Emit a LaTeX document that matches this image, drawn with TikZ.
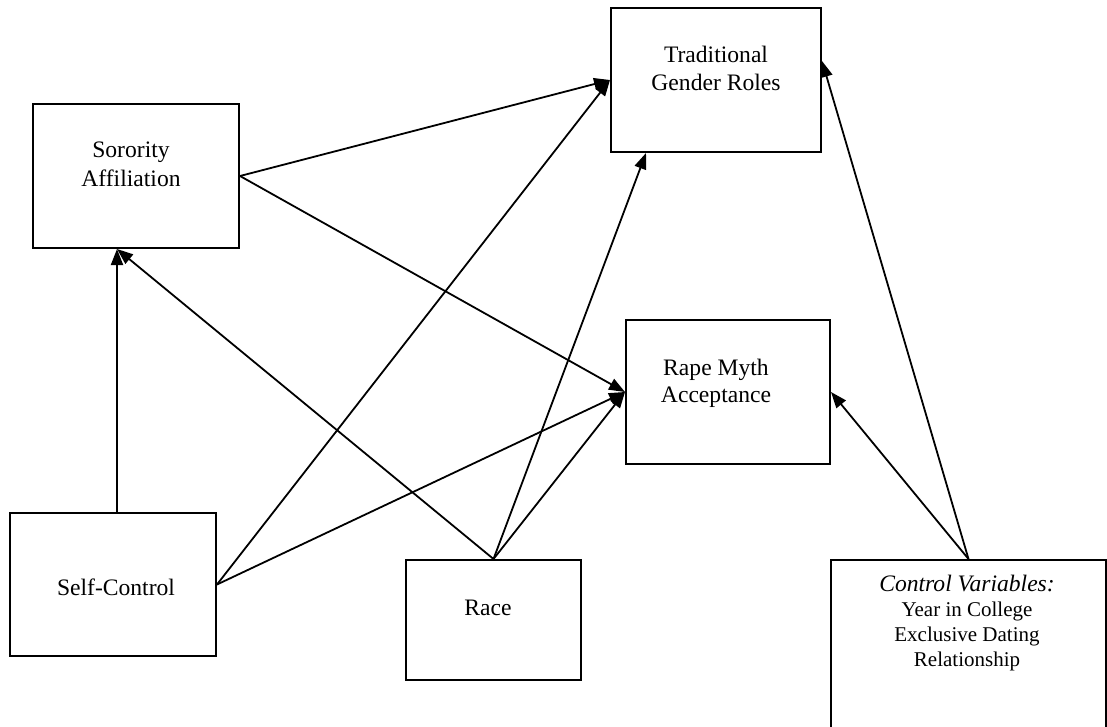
\documentclass[tikz,border=0pt]{standalone}
\usepackage{fontspec}
\setmainfont{Liberation Serif}
\usetikzlibrary{arrows.meta,calc}
\begin{document}
\begin{tikzpicture}[x=1pt,y=-1pt,
  box/.style={draw, line width=2pt, rectangle, inner sep=0pt, anchor=north west},
  lbl/.style={anchor=base, inner sep=0pt, font=\fontsize{23.6}{28}\selectfont},
  lblsmall/.style={anchor=base, inner sep=0pt, font=\fontsize{21}{25}\selectfont},
  link/.style={line width=1.8pt, -{Triangle[length=16pt,width=12pt]}}]
\clip (0,0) rectangle (1107,727);

% boxes
\node[box, minimum width=210pt, minimum height=144pt] (tgr)  at (610,7)   {};
\node[box, minimum width=206pt, minimum height=144pt] (sor)  at (32,103)  {};
\node[box, minimum width=204pt, minimum height=144pt] (rma)  at (625,319) {};
\node[box, minimum width=206pt, minimum height=143pt] (sc)   at (9,512)   {};
\node[box, minimum width=175pt, minimum height=120pt] (race) at (405,559) {};
\node[box, minimum width=275pt, minimum height=200pt] (ctrl) at (830,559) {};

% labels
\node[lbl] (tgrA) at (716,63)  {Traditional};
\node[lbl] (tgrB) at (716,91)  {Gender Roles};
\node[lbl] (sorA) at (131,158) {Sorority};
\node[lbl] (sorB) at (131,187) {Affiliation};
\node[lbl] (rmaA) at (716,375) {Rape Myth};
\node[lbl] (rmaB) at (716,402) {Acceptance};
\node[lbl] (scA)  at (116,595) {Self-Control};
\node[lbl] (raceA) at (488,615) {Race};
\node[lbl, font=\fontsize{23.6}{28}\selectfont\itshape] (ctrlA) at (967,591) {Control Variables:};
\node[lblsmall] (ctrlB) at (967,616) {Year in College};
\node[lblsmall] (ctrlC) at (967,641) {Exclusive Dating};
\node[lblsmall] (ctrlD) at (967,666) {Relationship};

% ports on the borders
\coordinate (scTop) at ($(sc.north)+(4,0)$);
\coordinate (sorIn) at (scTop |- sor.south);
\coordinate (tgrIn) at ($(tgr.south west)+(36,0)$);
\coordinate (tgrR)  at ($(tgr.north east)!0.37!(tgr.south east)$);

% paths
\draw[link] (sor.east) -- (tgr.west);
\draw[link] (sor.east) -- (rma.west);
\draw[link] (scTop) -- (sorIn);
\draw[link] (sc.east) -- (tgr.west);
\draw[link] (sc.east) -- (rma.west);
\draw[link] (race.north) -- (sorIn);
\draw[link] (race.north) -- (tgrIn);
\draw[link] (race.north) -- (rma.west);
\draw[link] (ctrl.north) -- (tgrR);
\draw[link] (ctrl.north) -- (rma.east);
\end{tikzpicture}
\end{document}
